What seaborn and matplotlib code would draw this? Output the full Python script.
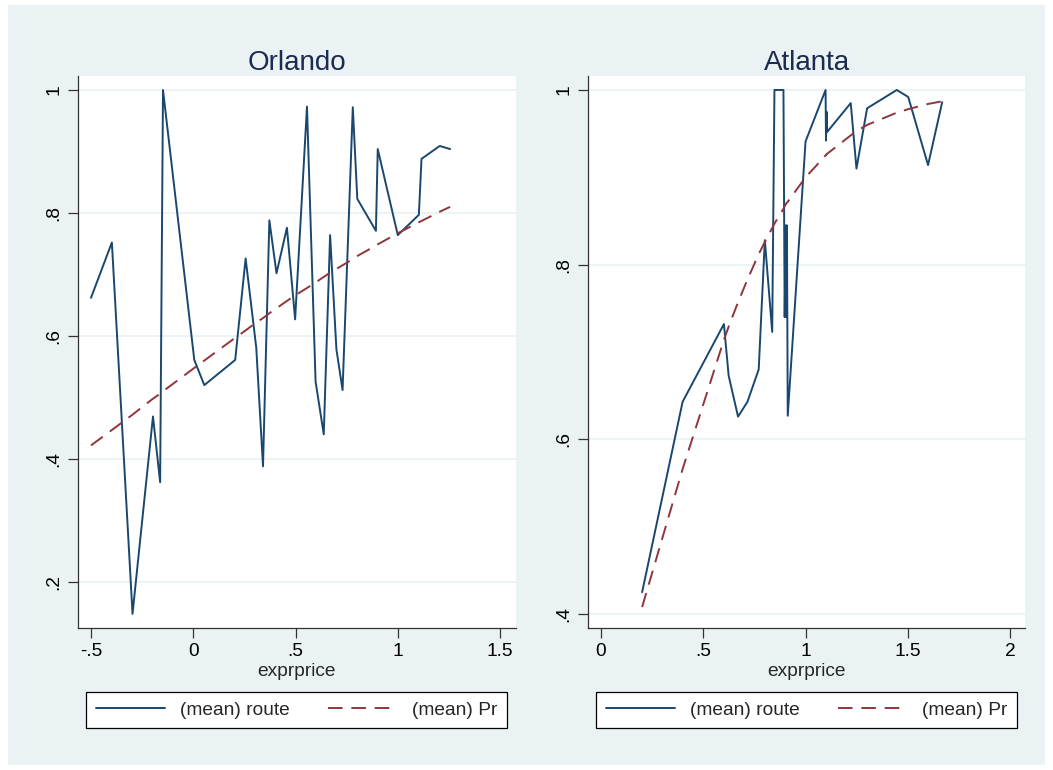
import matplotlib
matplotlib.use("Agg")
import matplotlib.pyplot as plt
import seaborn as sns
import pandas as pd
from matplotlib.patches import Rectangle

# ---- data ----
orl_x = [-0.5, -0.398, -0.297, -0.197, -0.162, -0.148, 0.005, 0.054, 0.205, 0.256,
         0.308, 0.341, 0.372, 0.407, 0.458, 0.498, 0.556, 0.598, 0.638, 0.669,
         0.700, 0.730, 0.780, 0.802, 0.893, 0.902, 1.0, 1.103, 1.116, 1.205, 1.256]
orl_route = [0.662, 0.752, 0.148, 0.469, 0.362, 1.0, 0.561, 0.520, 0.561, 0.726,
             0.581, 0.388, 0.788, 0.702, 0.776, 0.627, 0.973, 0.526, 0.440, 0.764,
             0.578, 0.512, 0.972, 0.823, 0.771, 0.904, 0.764, 0.797, 0.888, 0.909, 0.904]
orl_pr = [0.422, 0.447, 0.472, 0.498, 0.506, 0.510, 0.548, 0.560, 0.597, 0.609,
          0.622, 0.629, 0.637, 0.645, 0.657, 0.666, 0.678, 0.687, 0.696, 0.703,
          0.709, 0.715, 0.725, 0.730, 0.747, 0.749, 0.767, 0.785, 0.787, 0.802, 0.810]

atl_x = [0.201, 0.399, 0.601, 0.624, 0.670, 0.716, 0.771, 0.801, 0.837, 0.848,
         0.892, 0.898, 0.903, 0.906, 0.909, 0.913, 1.0, 1.098, 1.100, 1.103,
         1.106, 1.221, 1.249, 1.301, 1.446, 1.502, 1.599, 1.668]
atl_route = [0.425, 0.643, 0.732, 0.673, 0.626, 0.643, 0.680, 0.828, 0.723, 1.0,
             1.0, 0.740, 0.845, 0.740, 0.845, 0.627, 0.941, 1.0, 0.942, 0.975,
             0.952, 0.985, 0.910, 0.979, 1.0, 0.992, 0.914, 0.986]
atl_pr = [0.408, 0.566, 0.714, 0.729, 0.757, 0.783, 0.812, 0.826, 0.842, 0.847,
          0.864, 0.867, 0.869, 0.870, 0.871, 0.872, 0.900, 0.925, 0.926, 0.926,
          0.927, 0.948, 0.953, 0.960, 0.974, 0.978, 0.984, 0.987]

orl_xticks = [-0.5, 0, 0.5, 1, 1.5]
orl_xticklabels = ["-.5", "0", ".5", "1", "1.5"]
orl_yticks = [0.2, 0.4, 0.6, 0.8, 1.0]
orl_yticklabels = [".2", ".4", ".6", ".8", "1"]
atl_xticks = [0, 0.5, 1, 1.5, 2]
atl_xticklabels = ["0", ".5", "1", "1.5", "2"]
atl_yticks = [0.4, 0.6, 0.8, 1.0]
atl_yticklabels = [".4", ".6", ".8", "1"]

titles = ["Orlando", "Atlanta"]
xlabel = "exprprice"
legend_labels = ["(mean) route", "(mean) Pr"]

# ---- styling ----
sns.set_style("white")
plt.rcParams["font.family"] = ["Liberation Sans", "DejaVu Sans"]

BG = "#EAF2F3"
NAVY = "#1A476F"
MAROON = "#90353B"
TITLE_C = "#1C2B50"
W, H = 1053, 770
FS = 13.8

fig = plt.figure(figsize=(W / 100, H / 100), dpi=100, facecolor="white")
fig.patches.append(Rectangle((8 / W, 1 - 765 / H), (1045 - 8) / W, (765 - 5) / H,
                             transform=fig.transFigure, facecolor=BG, edgecolor="none",
                             zorder=-10))

def px_axes(l, t, r, b):
    return fig.add_axes([l / W, 1 - b / H, (r - l) / W, (b - t) / H])

ax1 = px_axes(78, 76, 516, 628)
ax2 = px_axes(588, 76, 1025, 628)

panels = [
    (ax1, orl_x, orl_route, orl_pr, orl_xticks, orl_xticklabels, orl_yticks, orl_yticklabels,
     (-0.5636, 1.578), (0.125, 1.0228), (86, 507)),
    (ax2, atl_x, atl_route, atl_pr, atl_xticks, atl_xticklabels, atl_yticks, atl_yticklabels,
     (-0.0636, 2.073), (0.384, 1.016), (596, 1017)),
]

for i, (ax, x, route, pr, xt, xtl, yt, ytl, xlim, ylim, legx) in enumerate(panels):
    df = pd.DataFrame({"x": x, "route": route, "pr": pr})
    ax.set_facecolor("white")
    for yv in yt:
        ax.axhline(yv, color=BG, lw=1.3, zorder=0)
    sns.lineplot(data=df, x="x", y="route", ax=ax, color=NAVY, lw=1.4,
                 estimator=None, sort=False, label=legend_labels[0])
    sns.lineplot(data=df, x="x", y="pr", ax=ax, color=MAROON, lw=1.4,
                 estimator=None, sort=False, dashes=False, label=legend_labels[1])
    ax.lines[-1].set_dashes((7.5, 4.5))
    ax.set_xlim(*xlim)
    ax.set_ylim(*ylim)
    ax.set_xticks(xt)
    ax.set_xticklabels(xtl)
    ax.set_yticks(yt)
    ax.set_yticklabels(ytl, rotation=90, va="center")
    ax.tick_params(axis="both", direction="out", length=7, width=0.9, color="#333333",
                   labelsize=FS, labelcolor="black", pad=4)
    ax.tick_params(axis="x", bottom=True)
    ax.tick_params(axis="y", left=True)
    for s in ["top", "right"]:
        ax.spines[s].set_visible(False)
    for s in ["left", "bottom"]:
        ax.spines[s].set_color("#333333")
        ax.spines[s].set_linewidth(0.9)
    ax.set_xlabel(xlabel, fontsize=FS, labelpad=2)
    ax.set_ylabel("")
    ax.set_title(titles[i], fontsize=20, pad=4, color=TITLE_C)
    ax.get_legend().remove()
    handles, labels = ax.get_legend_handles_labels()
    handles[1].set_dashes((7.5, 4.5))
    lx0, lx1 = legx
    leg = fig.legend(handles, labels, loc="center", ncol=2, mode="expand",
                     bbox_to_anchor=(lx0 / W, 1 - 729 / H, (lx1 - lx0) / W, 38 / H),
                     bbox_transform=fig.transFigure, frameon=True, fancybox=False,
                     edgecolor="black", facecolor="white", framealpha=1,
                     fontsize=FS, handlelength=3.6, handletextpad=0.8,
                     columnspacing=1.6, borderpad=0.5, borderaxespad=0)
    leg.get_frame().set_linewidth(0.9)

fig.savefig("out.png", dpi=100, facecolor=fig.get_facecolor())
